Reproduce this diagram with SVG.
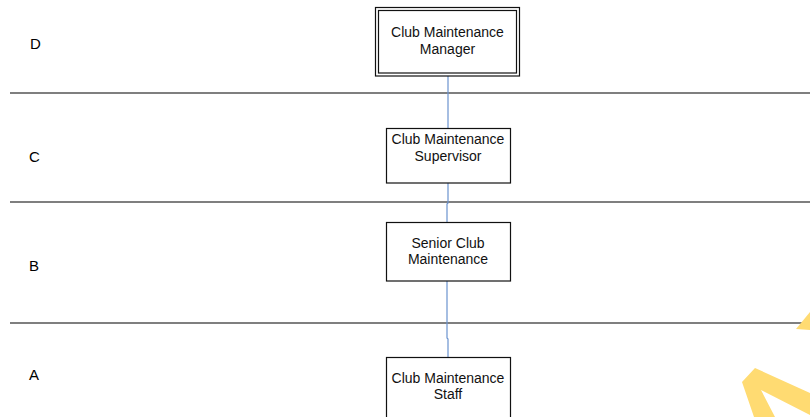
<svg xmlns="http://www.w3.org/2000/svg" width="810" height="417" viewBox="0 0 810 417">
<style>
.bg{fill:#fff}
.box{fill:#fff;stroke:#111;stroke-width:1.2}
.div{stroke:#555;stroke-width:1.4;fill:none}
.con{stroke:#6b93cf;stroke-width:1.2;fill:none}
.t{font-family:"Liberation Sans",Arial,sans-serif;font-size:14px;fill:#111;text-anchor:middle}
.lv{font-family:"Liberation Sans",Arial,sans-serif;font-size:15px;fill:#000}
.wm{fill:#ffdb72}
</style>
<rect class="bg" x="0" y="0" width="810" height="417"/>
<g id="dividers">
<line class="div" x1="10" y1="93" x2="810" y2="93"/>
<line class="div" x1="10" y1="202" x2="810" y2="202"/>
<line class="div" x1="10" y1="323" x2="810" y2="323"/>
</g>
<g id="levels">
<text class="lv" x="30" y="49">D</text>
<text class="lv" x="29" y="162">C</text>
<text class="lv" x="29" y="271">B</text>
<text class="lv" x="29" y="380">A</text>
</g>
<g id="connectors">
<line class="con" x1="448" y1="76" x2="448" y2="128"/>
<polyline class="con" points="448,183 448,203 447,204 447,222"/>
<polyline class="con" points="447,281 447,338 448,339 448,357"/>
</g>
<g id="manager">
<rect class="box" x="375.5" y="7.5" width="144" height="68.5"/>
<rect class="box" x="378.5" y="10.5" width="138" height="62.5"/>
<text class="t" x="447.5" y="37">Club Maintenance</text>
<text class="t" x="447.5" y="54">Manager</text>
</g>
<g id="supervisor">
<rect class="box" x="386.5" y="128.5" width="124" height="54.5"/>
<text class="t" x="448" y="144">Club Maintenance</text>
<text class="t" x="448" y="161">Supervisor</text>
</g>
<g id="senior">
<rect class="box" x="386.5" y="222.5" width="124" height="58.5"/>
<text class="t" x="448" y="248">Senior Club</text>
<text class="t" x="448" y="264">Maintenance</text>
</g>
<g id="staff">
<rect class="box" x="386.5" y="357.5" width="124" height="62"/>
<text class="t" x="448" y="383">Club Maintenance</text>
<text class="t" x="448" y="399">Staff</text>
</g>
<g id="watermark">
<polygon class="wm" points="796,329 810,312 810,330"/>
<polygon class="wm" points="742,382 755,368 810,393 810,415 761,390 775,417 754,417"/>
</g>
</svg>
